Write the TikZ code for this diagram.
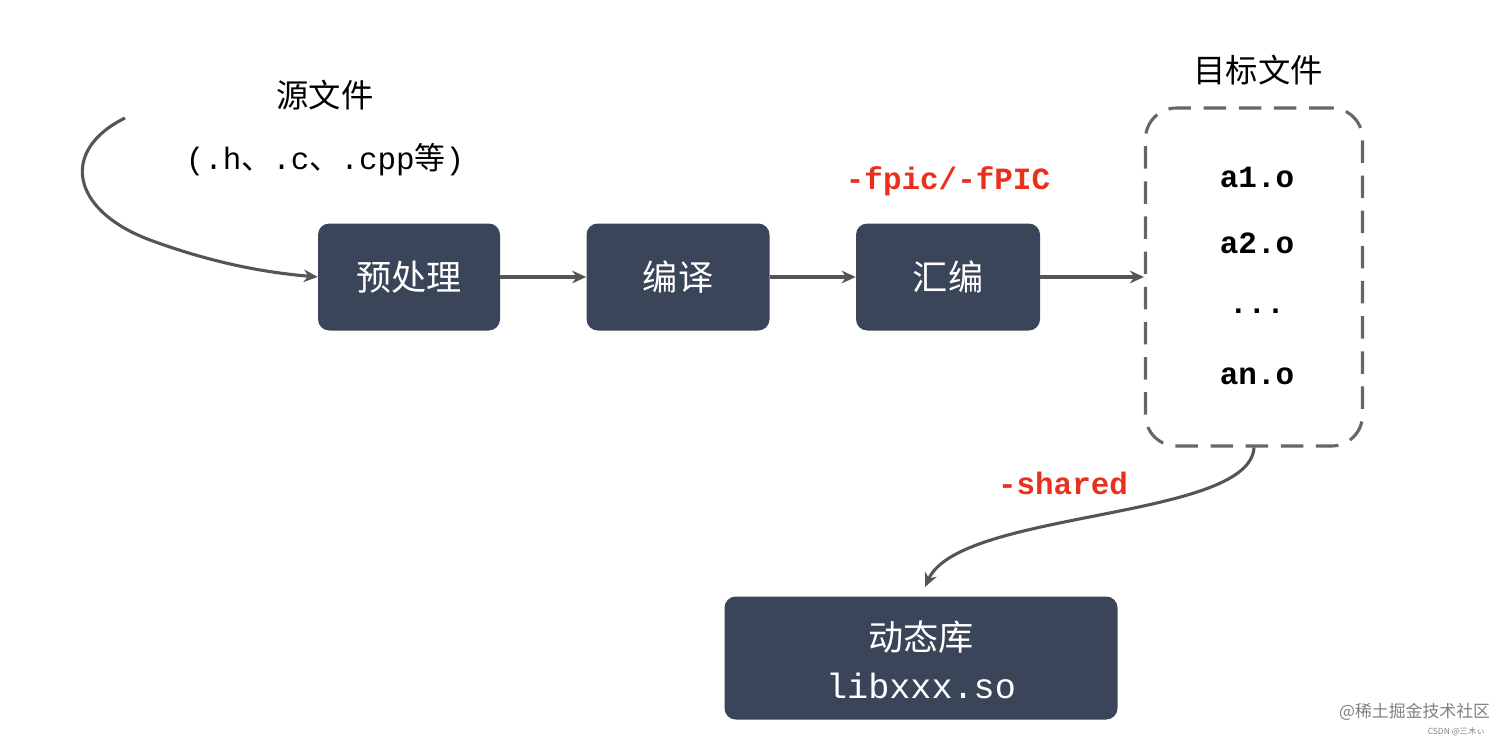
\documentclass[tikz,border=0pt]{standalone}
\usepackage{fontspec}
\setmainfont{Liberation Sans}
\setmonofont{Liberation Mono}
\newfontfamily\cjk{Noto Sans CJK SC}
\usetikzlibrary{arrows.meta}
\definecolor{boxc}{HTML}{3B4559}
\definecolor{arrc}{HTML}{555555}
\definecolor{redc}{HTML}{E8301C}
\tikzset{x=0.025cm,y=-0.025cm,
 stage/.style={fill=boxc,rounded corners=8pt,text=white,font=\cjk\fontsize{25}{30}\selectfont,inner sep=0pt},
 conn/.style={draw=arrc,line width=2.2pt,-{Stealth[length=10pt,width=9pt]}},
 lbl/.style={font=\cjk\fontsize{23}{28}\selectfont,text=black},
 mono/.style={font=\ttfamily\bfseries\fontsize{22}{26}\selectfont},
 red/.style={mono,text=redc}}
\begin{document}
\begin{tikzpicture}
\useasboundingbox (0,0) rectangle (1512,743);
\node[stage,minimum width=182*0.025cm,minimum height=107*0.025cm] (pre) at (409,277) {预处理};
\node[stage,minimum width=183*0.025cm,minimum height=107*0.025cm] (comp) at (678,277) {编译};
\node[stage,minimum width=184*0.025cm,minimum height=107*0.025cm] (asm) at (948,277) {汇编};
\node[draw=arrc!90,dashed,dash pattern=on 16pt off 9pt,line width=2.2pt,rounded corners=22pt,minimum width=217*0.025cm,minimum height=338*0.025cm] (obj) at (1254,277) {};
\node[stage,minimum width=393*0.025cm,minimum height=123*0.025cm,align=center] (lib) at (921,658) {};
\node[text=white,font=\cjk\fontsize{25}{30}\selectfont] (libt) at (921,637) {动态库};
\node[text=white,font=\ttfamily\fontsize{25}{30}\selectfont] (libf) at (921,686) {libxxx.so};
\node[lbl] (src) at (325,95) {源文件};
\node[font=\ttfamily\fontsize{22}{26}\selectfont] (srcx) at (325,160) {(.h{\cjk 、}.c{\cjk 、}.cpp{\cjk 等})};
\node[lbl] (objt) at (1258,70) {目标文件};
\node[mono] (a1) at (1257,177) {a1.o};
\node[mono] (a2) at (1257,243) {a2.o};
\node[mono] (dd) at (1257,311) {...};
\node[mono] (an) at (1257,376) {an.o};
\node[red] (fpic) at (948,181) {-fpic/-fPIC};
\node[red] (sh) at (1063,483) {-shared};
\coordinate (s0) at (125,118);
\draw[conn] (s0) .. controls (60,150) and (70,210) .. (150,240) .. controls (210,262) and (260,272) .. (pre.west);
\draw[conn] (pre) -- (comp);
\draw[conn] (comp) -- (asm);
\draw[conn] (asm) -- (obj);
\draw[conn] (obj.south) .. controls (1250,520) and (960,510) .. (925,587);
\node[font=\cjk\fontsize{12}{14}\selectfont,text=gray,anchor=east] (wm) at (1495,712) {@稀土掘金技术社区};
\node[font=\cjk\fontsize{6}{7}\selectfont,text=gray,anchor=east] (wm2) at (1490,732) {CSDN @三木ぃ};
\end{tikzpicture}
\end{document}
